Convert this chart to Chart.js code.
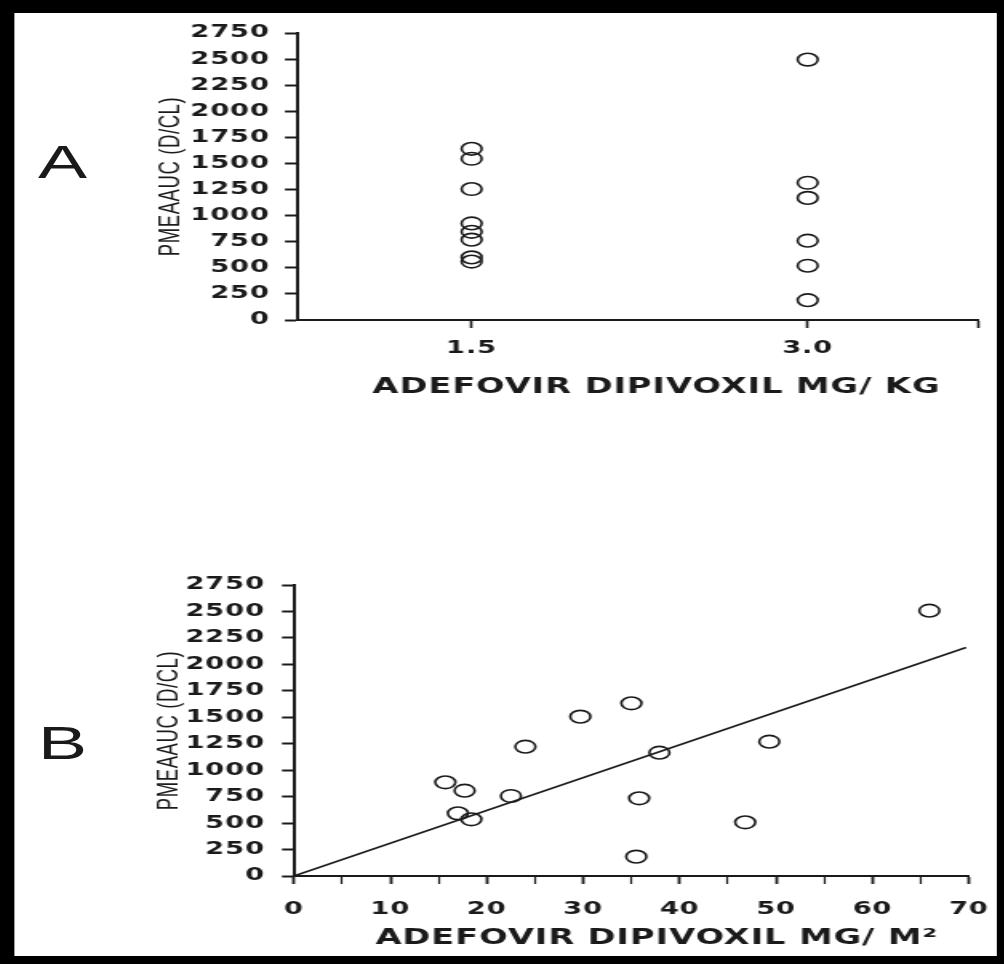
<!DOCTYPE html>
<html>
<head>
<meta charset="utf-8">
<script src="https://cdn.jsdelivr.net/npm/chart.js@4.4.1/dist/chart.umd.min.js"></script>
<style>
  html, body { margin: 0; padding: 0; background: #000; width: 1004px; height: 964px; overflow: hidden; }
  /* the scanned figure is stretched sideways, so draw narrow and stretch */
  #stretch { position: absolute; left: 0; top: 0; width: 627.5px; height: 964px; transform: scaleX(1.6); transform-origin: 0 0; }
  #paper { position: absolute; left: 8.75px; top: 13px; width: 613.75px; height: 943px; background: #fff; }
  canvas { position: absolute; left: 0; }
  .panel { position: absolute; left: 23.75px; font: 46px "Liberation Sans", Arial, sans-serif; line-height: 46px; color: #1a1a1a; }
</style>
</head>
<body>
<div id="stretch">
  <div id="paper"></div>
  <div class="panel" style="top:139px">A</div>
  <div class="panel" style="top:720px">B</div>
  <canvas id="chartA" width="627" height="480" style="top:0;width:627px;height:480px"></canvas>
  <canvas id="chartB" width="627" height="484" style="top:480px;width:627px;height:484px"></canvas>
</div>
<script>
// data
var doseKg = [1.5, 3.0];
var aucAt15 = [1640, 1545, 1255, 925, 845, 770, 600, 560];
var aucAt30 = [2495, 1315, 1170, 760, 520, 190];

var doseM2 = [15.7, 17.7, 17.0, 18.4, 22.5, 24.0, 29.7, 35.0, 37.9, 49.3, 35.8, 46.8, 35.5, 65.9];
var aucM2 = [885, 806, 592, 536, 756, 1222, 1506, 1632, 1165, 1269, 734, 507, 183, 2507];

var fitX = [0, 69.7];
var fitY = [0, 2160];

var aucTicks = [0, 250, 500, 750, 1000, 1250, 1500, 1750, 2000, 2250, 2500, 2750];
var m2Ticks = [0, 10, 20, 30, 40, 50, 60, 70];

var ink = '#1a1a1a';
var tickFont = { family: 'DejaVu Sans', size: 17, weight: 'bold' };
var yTitleFont = { family: 'Liberation Sans', size: 18.5, weight: 'normal' };
var xTitleFont = { family: 'DejaVu Sans', size: 21, weight: 'bold' };

// the scan's lettering is spaced out a little
var spacing = {
    id: 'spacing',
    beforeUpdate: function(chart) { chart.ctx.letterSpacing = '0.6px'; },
    beforeDraw: function(chart) { chart.ctx.letterSpacing = '0.6px'; }
};

function yAxis(axisWidth, titlePad, labelPad) {
    return {
        type: 'linear',
        min: aucTicks[0],
        max: aucTicks[aucTicks.length - 1],
        afterBuildTicks: function(s) { s.ticks = aucTicks.map(function(v) { return { value: v }; }); },
        afterFit: function(s) { s.width = axisWidth; s.paddingTop = 0; s.paddingBottom = 0; },
        ticks: {
            autoSkip: false, font: tickFont, color: ink, padding: labelPad,
            callback: function(v) { return String(v); }
        },
        grid: { drawOnChartArea: false, tickLength: 7.5, tickColor: ink, tickWidth: 2 },
        border: { display: true, color: ink, width: 2 },
        title: { display: true, text: 'PMEAAUC (D/CL)', font: yTitleFont, color: ink, padding: { top: titlePad, bottom: 0 } }
    };
}

function points(xs, ys) {
    return ys.map(function(y, i) { return { x: xs[i], y: y }; });
}

var pointStyle = {
    type: 'scatter',
    pointStyle: 'circle',
    pointRadius: 6.3,
    pointBorderWidth: 1.6,
    pointBackgroundColor: 'rgba(0,0,0,0)',
    pointBorderColor: ink
};

// panel A
var groupA = [];
aucAt15.forEach(function(v) { groupA.push({ x: doseKg[0], y: v }); });
aucAt30.forEach(function(v) { groupA.push({ x: doseKg[1], y: v }); });

new Chart(document.getElementById('chartA').getContext('2d'), {
    type: 'scatter',
    data: {
        datasets: [Object.assign({ data: groupA }, pointStyle)]
    },
    plugins: [spacing],
    options: {
        responsive: false,
        animation: false,
        layout: { padding: { top: 33, right: 15.75, left: 0, bottom: 0 } },
        plugins: { legend: { display: false }, tooltip: { enabled: false } },
        scales: {
            x: {
                type: 'linear',
                min: 0.72,
                max: 3.76,
                afterBuildTicks: function(s) {
                    s.ticks = doseKg.map(function(v) { return { value: v }; });
                    s.ticks.push({ value: s.max });
                },
                afterFit: function(s) { s.height = 160; s.paddingLeft = 0; s.paddingRight = 0; },
                ticks: {
                    autoSkip: false, maxRotation: 0, font: tickFont, color: ink, padding: 10,
                    callback: function(v) { return doseKg.indexOf(v) >= 0 ? v.toFixed(1) : ''; }
                },
                grid: { drawOnChartArea: false, tickLength: 8, tickColor: ink, tickWidth: 1.6 },
                border: { display: true, color: ink, width: 2 },
                title: { display: true, text: '   ADEFOVIR DIPIVOXIL MG/ KG', font: xTitleFont, color: ink, padding: { top: 0, bottom: 80 } }
            },
            y: yAxis(185.6, 96, 9.4)
        }
    }
});

// panel B
var m2TickValues = [];
m2Ticks.forEach(function(v, i) {
    m2TickValues.push(v);
    if (i < m2Ticks.length - 1) m2TickValues.push((v + m2Ticks[i + 1]) / 2);
});

new Chart(document.getElementById('chartB').getContext('2d'), {
    type: 'scatter',
    data: {
        datasets: [
            Object.assign({ data: points(doseM2, aucM2) }, pointStyle),
            {
                type: 'line',
                data: points(fitX, fitY),
                borderColor: ink,
                borderWidth: 1.6,
                pointRadius: 0,
                fill: false
            }
        ]
    },
    plugins: [spacing],
    options: {
        responsive: false,
        animation: false,
        layout: { padding: { top: 105, right: 21.4, left: 0, bottom: 0 } },
        plugins: { legend: { display: false }, tooltip: { enabled: false } },
        scales: {
            x: {
                type: 'linear',
                min: m2Ticks[0],
                max: m2Ticks[m2Ticks.length - 1],
                afterBuildTicks: function(s) { s.ticks = m2TickValues.map(function(v) { return { value: v }; }); },
                afterFit: function(s) { s.height = 88; s.paddingLeft = 0; s.paddingRight = 0; },
                ticks: {
                    autoSkip: false, maxRotation: 0, font: tickFont, color: ink, padding: 15,
                    callback: function(v) { return m2Ticks.indexOf(v) >= 0 ? String(v) : ''; }
                },
                grid: {
                    drawOnChartArea: false, tickLength: 8, tickColor: ink,
                    tickWidth: function(ctx) { return ctx.tick && m2Ticks.indexOf(ctx.tick.value) >= 0 ? 1.8 : 1.2; }
                },
                border: { display: true, color: ink, width: 2 },
                title: { display: true, text: '    ADEFOVIR DIPIVOXIL MG/ M²', font: xTitleFont, color: ink, padding: { top: 0, bottom: 12.7 } }
            },
            y: yAxis(183.75, 94.8, 10.6)
        }
    }
});
</script>
</body>
</html>
